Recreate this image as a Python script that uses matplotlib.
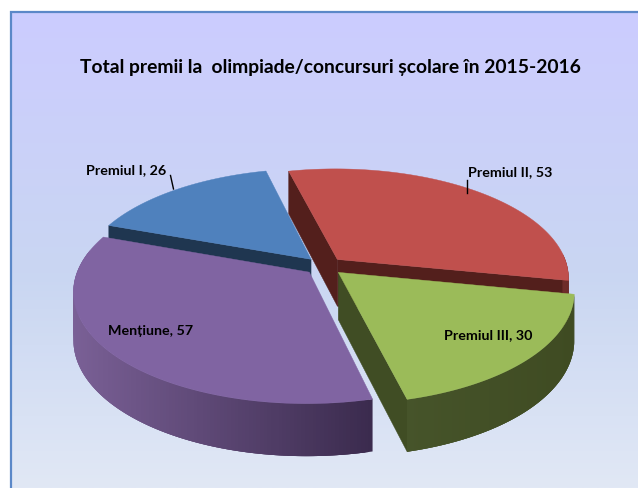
import numpy as np
import matplotlib
matplotlib.use("Agg")
import matplotlib.pyplot as plt
from matplotlib.collections import PolyCollection
from matplotlib.colors import to_rgb
from matplotlib.patches import Polygon

title = "Total premii la  olimpiade/concursuri școlare în 2015-2016"
names = ["Premiul I", "Premiul II", "Premiul III", "Mențiune"]
values = [26, 53, 30, 57]

top_colors = ["#4f81bd", "#c0504d", "#9bbb59", "#8064a2"]
radial_colors = ["#1f3650", "#531f1c", "#404d24", "#3c2d50"]
side_left = ["#2a4a6e", "#6e2c2a", "#46542a", "#7a6096"]
side_right = ["#2a4a6e", "#6e2c2a", "#3f4b22", "#3b2b4e"]
explode = [0.085, 0.085, 0.085, 0.085]
start_clock = 166.2        # where Mențiune starts (degrees clockwise from the back)
cx, cy, R, Rk, p = 324.0, 266.0, 230.0, 107.5, 0.165
d0, pd = 47.0, 0.10
draw_order = [0, 1, 2, 3]

label_pos = [(126, 170), (510, 172), (488, 335), (151, 331)]
leaders = [((170.5, 175.5), (173.5, 189)), ((467, 180), (467, 193))]

W, H = 638, 488
fig = plt.figure(figsize=(W / 100, H / 100), dpi=100, facecolor="white")
ax = fig.add_axes([0, 0, 1, 1])
ax.set_xlim(0, W)
ax.set_ylim(H, 0)
ax.axis("off")
plt.rcParams["font.family"] = ["Lato", "DejaVu Sans"]

# panel gradient
c1 = np.array(to_rgb("#ccccff"))
c2 = np.array(to_rgb("#c9d6f2"))
c3 = np.array(to_rgb("#e1e8f5"))
t = np.linspace(0, 1, 256)[:, None]
grad = np.where(t < 0.55, c1 + (c2 - c1) * (t / 0.55), c2 + (c3 - c2) * ((t - 0.55) / 0.45))
ax.imshow(grad[:, None, :], extent=[10.5, W + 2, H, 11.5], aspect="auto", zorder=0, interpolation="bilinear")
ax.set_xlim(0, W)
ax.set_ylim(H, 0)
ax.plot([10.5, 10.5, W], [H, 11.5, 11.5], color="#5b88c8", lw=1.6, zorder=1, solid_joinstyle="miter")


def project(u, v, drop=False):
    u, v = np.asarray(u, float), np.asarray(v, float)
    s = 1 - p * v
    x = cx + R * u / s
    y = cy + Rk * v / s
    if drop:
        y = y + d0 / (1 - pd * v)
    return np.column_stack([x, y])


# angular layout from the values; Premiul I follows Mențiune clockwise
total = sum(values)
sweeps = [360.0 * val / total for val in values]
starts = [0.0] * 4
a = start_clock
for i in [3, 0, 1, 2]:
    starts[i] = a
    a += sweeps[i]

z = 2
for i in draw_order:
    th0 = np.radians(starts[i])
    th1 = np.radians(starts[i] + sweeps[i])
    mid = (th0 + th1) / 2
    ou, ov = explode[i] * np.sin(mid), -explode[i] * np.cos(mid)
    th = np.linspace(th0, th1, 160)
    au, av = ou + np.sin(th), ov - np.cos(th)

    # radial walls facing the viewer
    for ang, sign in ((th0, -1), (th1, 1)):
        nv = -np.cos(ang + sign * np.pi / 2)
        if nv > 0:
            eu, ev = ou + np.sin(ang), ov - np.cos(ang)
            tops = project([ou, eu], [ov, ev])
            bots = project([ou, eu], [ov, ev], drop=True)
            ax.add_patch(Polygon(np.vstack([tops, bots[::-1]]), closed=True,
                                 fc=radial_colors[i], ec=radial_colors[i], lw=0.3, zorder=z))
            z += 1

    # outer rim with horizontal shading; each quad overlaps the next to hide seams
    top = project(au, av)
    bot = project(au, av, drop=True)
    quads, cols = [], []
    cl, cr = np.array(to_rgb(side_left[i])), np.array(to_rgb(side_right[i]))
    n = len(th)
    for j in range(n - 1):
        if (av[j] + av[j + 1]) / 2 < -0.12:
            continue
        k = min(j + 3, n - 1)
        quads.append([top[j], top[k], bot[k], bot[j]])
        lo, hi = top[:, 0].min(), top[:, 0].max()
        f = (top[j, 0] - lo) / (hi - lo)
        cols.append(cl + (cr - cl) * f)
    if quads:
        ax.add_collection(PolyCollection(quads, facecolors=cols, edgecolors="none", zorder=z))
        z += 1

    # top face
    apex = project([ou], [ov])
    ax.add_patch(Polygon(np.vstack([apex, top]), closed=True, fc=top_colors[i],
                         ec=top_colors[i], lw=0.3, zorder=z))
    z += 1

for i, (x, y) in enumerate(label_pos):
    ax.text(x, y, f"{names[i]}, {values[i]}", ha="center", va="center", fontsize=10.3,
            fontweight="bold", color="black", zorder=z)
for (a0, a1) in leaders:
    ax.plot([a0[0], a1[0]], [a0[1], a1[1]], color="black", lw=1.0, zorder=z)

ax.text(330, 68, title, ha="center", va="center", fontsize=13.85, fontweight="bold", color="black", zorder=z)

fig.savefig("out.png", dpi=100, facecolor="white")
